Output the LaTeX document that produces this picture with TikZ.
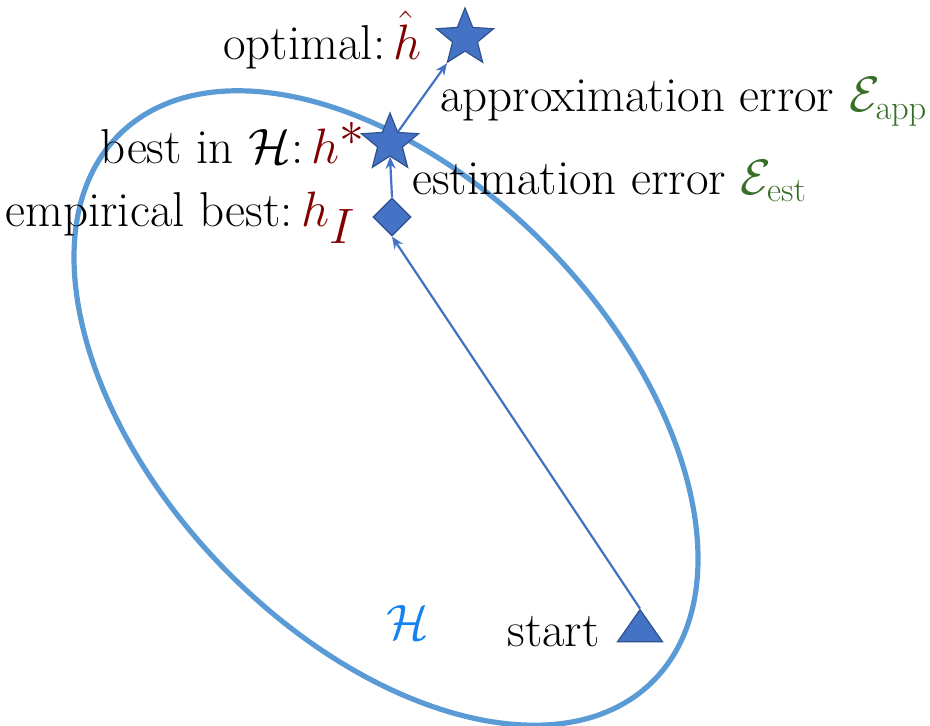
\documentclass[tikz,border=0pt]{standalone}
\usetikzlibrary{shapes.geometric,arrows.meta}
\definecolor{ell}{RGB}{91,155,213}
\definecolor{mk}{RGB}{68,114,196}
\definecolor{mkd}{RGB}{47,82,143}
\definecolor{dred}{RGB}{128,0,0}
\definecolor{dgreen}{RGB}{56,110,40}
\definecolor{hblue}{RGB}{20,130,240}
\tikzset{
  mkshape/.style={fill=mk,draw=mkd,line width=0.6pt,inner sep=0pt},
  starm/.style={mkshape,star,star points=5,star point ratio=2.3,minimum size=30pt},
  lab/.style={font=\fontsize{24.5}{28}\selectfont,inner sep=1pt},
  conn/.style={draw=mk,line width=1.1pt,-{Stealth[length=6pt,width=5pt]}},
}
\newcommand{\redm}[1]{\textcolor{dred}{\fontsize{34}{38}\selectfont$#1$}}
\begin{document}
\begin{tikzpicture}[x=0.5pt,y=-0.5pt]
\useasboundingbox (0,0) rectangle (930,726);
\draw[ell,line width=2.6pt,rotate around={-46:(386,408)}] (386,408) ellipse [x radius=382,y radius=228];
\node[mkshape,isosceles triangle,isosceles triangle apex angle=70,shape border rotate=90,minimum width=22pt,minimum height=16pt] (start) at (640,630) {};
\node[mkshape,diamond,minimum size=19pt] (emp) at (392,217) {};
\node[starm] (best) at (390,143) {};
\node[starm] (opt) at (465,38) {};
\draw[conn] (start.apex) -- (emp.south);
\draw[conn] (emp.north) -- (best.south);
\draw[conn] (best) -- (opt);
\node[lab,anchor=east] (l1) at (424,40) {optimal:\,\redm{\hat h}};
\node[lab,anchor=east] (l2) at (368,143) {best in $\mathcal H$:\,\redm{h^*}};
\node[lab,anchor=east] (l3) at (358,218) {empirical best:\,\redm{h_I}};
\node[lab,anchor=west] (l4) at (438,102) {approximation error \textcolor{dgreen}{$\mathcal E_{\mathrm{app}}$}};
\node[lab,anchor=west] (l5) at (410,181) {estimation error \textcolor{dgreen}{$\mathcal E_{\mathrm{est}}$}};
\node[lab,anchor=east] (l6) at (602,632) {start};
\node[text=hblue,font=\fontsize{40}{44}\selectfont] (H) at (408,622) {$\mathcal H$};
\end{tikzpicture}
\end{document}
